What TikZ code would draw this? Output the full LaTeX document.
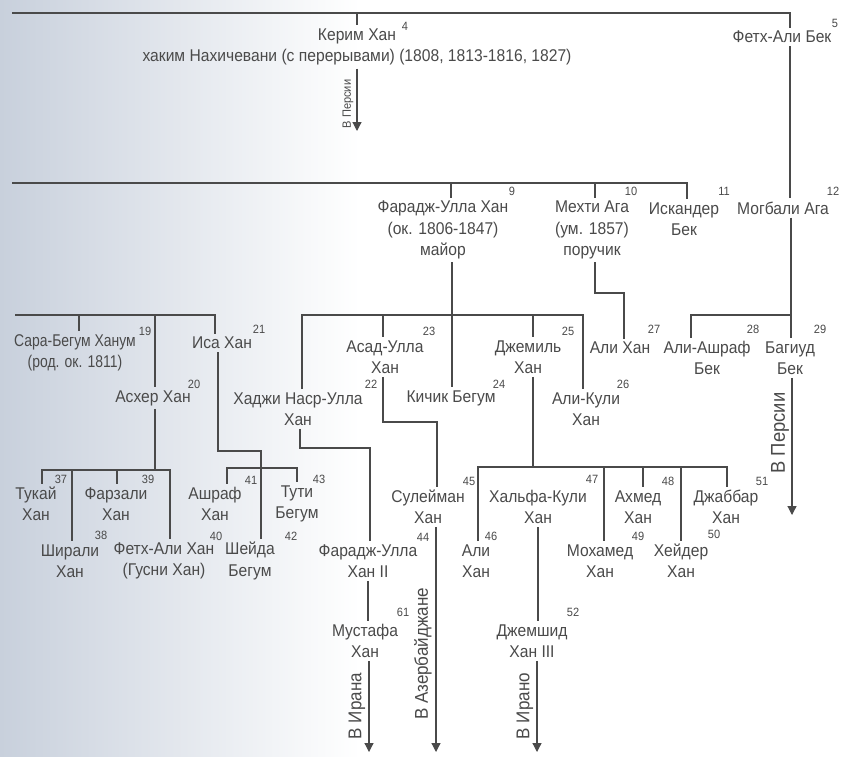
\documentclass[tikz,border=0pt]{standalone}
\usepackage{fontspec}
\newfontfamily\narrowfam{Liberation Sans}[FakeStretch=0.92]
\newfontfamily\tightfam{Liberation Sans}[FakeStretch=0.82]
\usetikzlibrary{arrows.meta}
\definecolor{ink}{HTML}{4A4A4A}
\definecolor{scan}{RGB}{200,208,220}
\newcommand\pfont{\narrowfam\fontsize{17}{21.5}\selectfont}
\newcommand\tightpfont{\tightfam\fontsize{17}{21.5}\selectfont}
\newcommand\supfont{\narrowfam\fontsize{12}{12}\selectfont}
\newcommand\rotfont{\narrowfam\fontsize{18.5}{18.5}\selectfont}
\newcommand\bigrotfont{\narrowfam\fontsize{20}{20}\selectfont}
\newcommand\smallrotfont{\narrowfam\fontsize{12}{12}\selectfont}
\begin{document}
\begin{tikzpicture}[x=1pt,y=-1pt,
  pn/.style={align=center, inner sep=3pt, font=\pfont, text=ink},
  sn/.style={inner sep=0pt, font=\supfont, text=ink},
  ln/.style={draw=ink, line width=1.2pt},
  arr/.style={ln, -{Triangle[width=9pt,length=9pt]}},
  rt/.style={rotate=90, inner sep=0pt, font=\rotfont, text=ink}]
\useasboundingbox (0,0) rectangle (842,756);
\fill[white] (0,0) rectangle (842,756);
\shade[left color=scan, right color=white] (0,0) rectangle (360,756);

% ---------- generation 1
\node[pn] (n4) at (357,47) {Керим Хан\\хаким Нахичевани (с перерывами) (1808, 1813-1816, 1827)};
\node[sn] (s4) at (405,26) {4};
\node[pn] (n5) at (782,37) {Фетх-Али Бек};
\node[sn] (s5) at (835,23) {5};

% ---------- generation 2
\node[pn] (n9) at (443,230) {Фарадж-Улла Хан\\(ок. 1806-1847)\\майор};
\node[sn] (s9) at (512,191) {9};
\node[pn] (n10) at (592,230) {Мехти Ага\\(ум. 1857)\\поручик};
\node[sn] (s10) at (631,191) {10};
\node[pn] (n11) at (684,219) {Искандер\\Бек};
\node[sn] (s11) at (724,191) {11};
\node[pn] (n12) at (783,208) {Могбали Ага};
\node[sn] (s12) at (833,191) {12};

% ---------- generation 3
\node[pn, font=\tightpfont] (n19) at (75,353) {Сара-Бегум Ханум\\(род. ок. 1811)};
\node[sn] (s19) at (145,331) {19};
\node[pn] (n20) at (153,398) {Асхер Хан};
\node[sn] (s20) at (194,384) {20};
\node[pn] (n21) at (222,343) {Иса Хан};
\node[sn] (s21) at (259,329) {21};
\node[pn] (n22) at (298,409) {Хаджи Наср-Улла\\Хан};
\node[sn] (s22) at (371,384) {22};
\node[pn] (n23) at (385,357) {Асад-Улла\\Хан};
\node[sn] (s23) at (429,331) {23};
\node[pn] (n24) at (451,398) {Кичик Бегум};
\node[sn] (s24) at (499,384) {24};
\node[pn] (n25) at (528,357) {Джемиль\\Хан};
\node[sn] (s25) at (568,331) {25};
\node[pn] (n26) at (586,409) {Али-Кули\\Хан};
\node[sn] (s26) at (623,384) {26};
\node[pn] (n27) at (620,348) {Али Хан};
\node[sn] (s27) at (654,329) {27};
\node[pn] (n28) at (707,358) {Али-Ашраф\\Бек};
\node[sn] (s28) at (753,329) {28};
\node[pn] (n29) at (790,358) {Багиуд\\Бек};
\node[sn] (s29) at (820,329) {29};

% ---------- generation 4
\node[pn] (n37) at (36,504) {Тукай\\Хан};
\node[sn] (s37) at (61,479) {37};
\node[pn] (n38) at (70,561) {Ширали\\Хан};
\node[sn] (s38) at (101,535) {38};
\node[pn] (n39) at (116,504) {Фарзали\\Хан};
\node[sn] (s39) at (148,479) {39};
\node[pn] (n40) at (164,561) {Фетх-Али Хан\\(Гусни Хан)};
\node[sn] (s40) at (216,536) {40};
\node[pn] (n41) at (215,504) {Ашраф\\Хан};
\node[sn] (s41) at (251,480) {41};
\node[pn] (n42) at (250,561) {Шейда\\Бегум};
\node[sn] (s42) at (291,536) {42};
\node[pn] (n43) at (297,504) {Тути\\Бегум};
\node[sn] (s43) at (319,479) {43};
\node[pn] (n44) at (368,561) {Фарадж-Улла\\Хан II};
\node[sn] (s44) at (423,537) {44};
\node[pn] (n45) at (428,507) {Сулейман\\Хан};
\node[sn] (s45) at (469,481) {45};
\node[pn] (n46) at (476,561) {Али\\Хан};
\node[sn] (s46) at (491,536) {46};
\node[pn] (n47) at (538,507) {Хальфа-Кули\\Хан};
\node[sn] (s47) at (592,479) {47};
\node[pn] (n48) at (638,507) {Ахмед\\Хан};
\node[sn] (s48) at (668,481) {48};
\node[pn] (n49) at (600,561) {Мохамед\\Хан};
\node[sn] (s49) at (638,536) {49};
\node[pn] (n50) at (681,561) {Хейдер\\Хан};
\node[sn] (s50) at (714,534) {50};
\node[pn] (n51) at (726,507) {Джаббар\\Хан};
\node[sn] (s51) at (762,481) {51};

% ---------- generation 5
\node[pn] (n61) at (365,641) {Мустафа\\Хан};
\node[sn] (s61) at (403,612) {61};
\node[pn] (n52) at (532,641) {Джемшид\\Хан III};
\node[sn] (s52) at (573,612) {52};

% ---------- rotated labels
\node[rt, font=\smallrotfont] (r4) at (348,104) {В Персии};
\node[rt, font=\bigrotfont] (r29) at (780,433) {В Персии};
\node[rt] (r61) at (357,706) {В Ирана};
\node[rt] (r45) at (423,654) {В Азербайджане};
\node[rt] (r52) at (525,706) {В Ирано};

% ---------- coordinates
\coordinate (t0) at (12,13);  \coordinate (t4) at (357,13); \coordinate (t5) at (790,13);
\coordinate (g0) at (12,183); \coordinate (g9) at (451,183);
\coordinate (g10) at (595,183); \coordinate (g11) at (687,183);
\coordinate (m12) at (791,315); \coordinate (m28) at (691,315);
\coordinate (c10a) at (595,293); \coordinate (c10b) at (624,293);
\coordinate (f0) at (302,315); \coordinate (f23) at (383,315); \coordinate (f24) at (452,315);
\coordinate (f25) at (533,315); \coordinate (f26) at (583,315);
\coordinate (l0) at (15,315); \coordinate (l19) at (79,315);
\coordinate (l20) at (155,315); \coordinate (l21) at (215,315);
\coordinate (a0) at (42,470); \coordinate (a20) at (155,470); \coordinate (a38) at (72,470);
\coordinate (a39) at (117,470); \coordinate (a40) at (170,470);
\coordinate (i1) at (218,451); \coordinate (i2) at (261,451);
\coordinate (i41) at (227,468); \coordinate (i43) at (297,468);
\coordinate (h1) at (300,448); \coordinate (h2) at (370,448); \coordinate (h3) at (368,600);
\coordinate (d1) at (383,422); \coordinate (d2) at (437,422);
\coordinate (j0) at (478,467); \coordinate (j25) at (533,467); \coordinate (j48) at (643,467);
\coordinate (j49) at (604,467); \coordinate (j50) at (681,467); \coordinate (j51) at (727,467);
\coordinate (k1) at (538,600);
\coordinate (e4) at (357,131); \coordinate (e29) at (792,515);
\coordinate (e61) at (369,752); \coordinate (e45) at (436,752); \coordinate (e52) at (537,752);

% ---------- connectors
\draw[ln] (t0) -- (t5) -- (t5 |- n5.north);
\draw[ln] (t4) -- (t4 |- n4.north);
\draw[ln] (n5.south -| t5) -- (t5 |- n12.north);
\draw[arr] (n4.south -| e4) -- (e4);

\draw[ln] (g0) -- (g11) -- (g11 |- n11.north);
\draw[ln] (g9) -- (g9 |- n9.north);
\draw[ln] (g10) -- (g10 |- n10.north);

\draw[ln] (n12.south -| m12) -- (m12 |- n29.north);
\draw[ln] (m12) -- (m28) -- (m28 |- n28.north);
\draw[arr] (n29.south -| e29) -- (e29);

\draw[ln] (n10.south -| c10a) -- (c10a) -- (c10b) -- (c10b |- n27.north);

\draw[ln] (n9.south -| f24) -- (f24 |- n24.north);
\draw[ln] (f0 |- n22.north) -- (f0) -- (f26) -- (f26 |- n26.north);
\draw[ln] (f23) -- (f23 |- n23.north);
\draw[ln] (f25) -- (f25 |- n25.north);

\draw[ln] (l0) -- (l21) -- (l21 |- n21.north);
\draw[ln] (l19) -- (l19 |- n19.north);
\draw[ln] (l20) -- (l20 |- n20.north);

\draw[ln] (n20.south -| a20) -- (a20);
\draw[ln] (a0 |- n37.north) -- (a0) -- (a40) -- (a40 |- n40.north);
\draw[ln] (a38) -- (a38 |- n38.north);
\draw[ln] (a39) -- (a39 |- n39.north);

\draw[ln] (n21.south -| i1) -- (i1) -- (i2) -- (i2 |- n42.north);
\draw[ln] (i41 |- n41.north) -- (i41) -- (i43) -- (i43 |- n43.north);

\draw[ln] (n22.south -| h1) -- (h1) -- (h2) -- (h2 |- n44.north);
\draw[ln] (n44.south -| h3) -- (h3 |- n61.north);
\draw[arr] (n61.south -| e61) -- (e61);

\draw[ln] (n23.south -| d1) -- (d1) -- (d2) -- (d2 |- n45.north);
\draw[arr] (n45.south -| e45) -- (e45);

\draw[ln] (n25.south -| j25) -- (j25);
\draw[ln] (j0 |- n46.north) -- (j0) -- (j51) -- (j51 |- n51.north);
\draw[ln] (j48) -- (j48 |- n48.north);
\draw[ln] (j49) -- (j49 |- n49.north);
\draw[ln] (j50) -- (j50 |- n50.north);
\draw[ln] (n47.south -| k1) -- (k1 |- n52.north);
\draw[arr] (n52.south -| e52) -- (e52);
\end{tikzpicture}
\end{document}
